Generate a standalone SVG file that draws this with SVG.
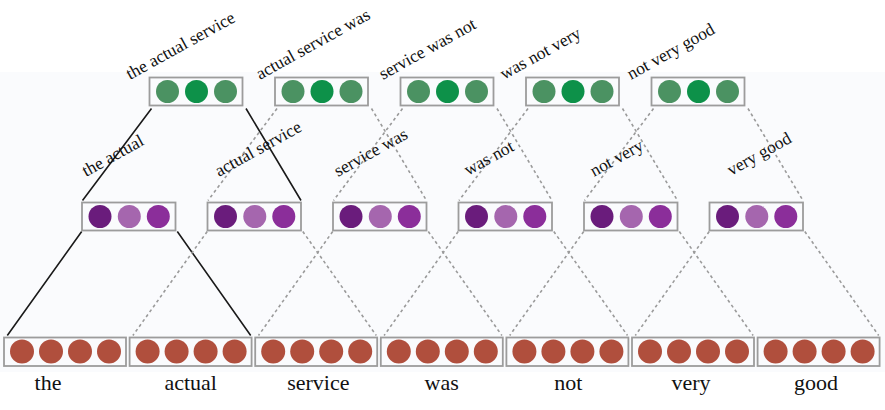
<svg xmlns="http://www.w3.org/2000/svg" width="885" height="410" viewBox="0 0 885 410">
<defs>
<filter id="soft" x="-20%" y="-20%" width="140%" height="140%"><feGaussianBlur stdDeviation="0.7"/></filter>
</defs>
<style>
.box{fill:none;stroke:#9c9c9c;stroke-width:1.8}
.g1{fill:#4c9262}.g2{fill:#0b9149}
.p1{fill:#6b1e7c}.p2{fill:#a566ae}.p3{fill:#8b2d9a}
.r{fill:#b04f3e}
.solid{stroke:#1a1a1a;stroke-width:1.6;fill:none}
.dot{stroke:#9a9a9a;stroke-width:1.6;stroke-dasharray:3 3;fill:none}
.lab{font-size:17.5px;fill:#111}
.word{font-size:22px;fill:#111;text-anchor:middle}
</style>
<rect width="885" height="410" fill="#ffffff"/>
<rect x="0" y="72" width="885" height="300" fill="#fafbfd"/>
<g id="connectors">
<path class="solid" d="M151.5 108.5 L82.5 200.5 M246 108.5 L301 200.5"/>
<path class="dot" d="M277 108.5 L208 200.5 M371.5 108.5 L426.5 200.5"/>
<path class="dot" d="M402.5 108.5 L333.5 200.5 M497 108.5 L552 200.5"/>
<path class="dot" d="M528 108.5 L459 200.5 M622.5 108.5 L677.5 200.5"/>
<path class="dot" d="M653.5 108.5 L584.5 200.5 M748 108.5 L803 200.5"/>
<path class="solid" d="M81.7 231.5 L7.3 335.5 M177.3 231.5 L250.7 335.5"/>
<path class="dot" d="M207.2 231.5 L132.9 335.5 M302.8 231.5 L376.3 335.5"/>
<path class="dot" d="M332.7 231.5 L258.5 335.5 M428.3 231.5 L501.9 335.5"/>
<path class="dot" d="M458.2 231.5 L384.1 335.5 M553.8 231.5 L627.5 335.5"/>
<path class="dot" d="M583.7 231.5 L509.7 335.5 M679.3 231.5 L753.1 335.5"/>
<path class="dot" d="M709.2 231.5 L635.3 335.5 M804.8 231.5 L878.7 335.5"/>
</g>
<g font-family="'Liberation Serif', 'DejaVu Serif', serif">
<g id="top-0"><rect class="box" x="149.5" y="77.5" width="93" height="28"/><g filter="url(#soft)"><circle class="g1" cx="167.5" cy="91.5" r="11.5"/><circle class="g2" cx="196.5" cy="91.5" r="11.5"/><circle class="g1" cx="225.5" cy="91.5" r="11.5"/></g><text class="lab" transform="translate(130 80) rotate(-29)">the actual service</text></g>
<g id="top-1"><rect class="box" x="275" y="77.5" width="93" height="28"/><g filter="url(#soft)"><circle class="g1" cx="293" cy="91.5" r="11.5"/><circle class="g2" cx="322" cy="91.5" r="11.5"/><circle class="g1" cx="351" cy="91.5" r="11.5"/></g><text class="lab" transform="translate(260 80) rotate(-29)">actual service was</text></g>
<g id="top-2"><rect class="box" x="400.5" y="77.5" width="93" height="28"/><g filter="url(#soft)"><circle class="g1" cx="418.5" cy="91.5" r="11.5"/><circle class="g2" cx="447.5" cy="91.5" r="11.5"/><circle class="g1" cx="476.5" cy="91.5" r="11.5"/></g><text class="lab" transform="translate(383 80) rotate(-29)">service was not</text></g>
<g id="top-3"><rect class="box" x="526" y="77.5" width="93" height="28"/><g filter="url(#soft)"><circle class="g1" cx="544" cy="91.5" r="11.5"/><circle class="g2" cx="573" cy="91.5" r="11.5"/><circle class="g1" cx="602" cy="91.5" r="11.5"/></g><text class="lab" transform="translate(504 80) rotate(-29)">was not very</text></g>
<g id="top-4"><rect class="box" x="651.5" y="77.5" width="93" height="28"/><g filter="url(#soft)"><circle class="g1" cx="669.5" cy="91.5" r="11.5"/><circle class="g2" cx="698.5" cy="91.5" r="11.5"/><circle class="g1" cx="727.5" cy="91.5" r="11.5"/></g><text class="lab" transform="translate(631 80) rotate(-29)">not very good</text></g>
<g id="mid-0"><rect class="box" x="82" y="202.5" width="93.5" height="28"/><g filter="url(#soft)"><circle class="p1" cx="100" cy="216.5" r="11.5"/><circle class="p2" cx="129.3" cy="216.5" r="11.5"/><circle class="p3" cx="158.3" cy="216.5" r="11.5"/></g><text class="lab" transform="translate(86 177) rotate(-29)">the actual</text></g>
<g id="mid-1"><rect class="box" x="207.5" y="202.5" width="93.5" height="28"/><g filter="url(#soft)"><circle class="p1" cx="225.5" cy="216.5" r="11.5"/><circle class="p2" cx="254.8" cy="216.5" r="11.5"/><circle class="p3" cx="283.8" cy="216.5" r="11.5"/></g><text class="lab" transform="translate(219 177) rotate(-29)">actual service</text></g>
<g id="mid-2"><rect class="box" x="333" y="202.5" width="93.5" height="28"/><g filter="url(#soft)"><circle class="p1" cx="351" cy="216.5" r="11.5"/><circle class="p2" cx="380.3" cy="216.5" r="11.5"/><circle class="p3" cx="409.3" cy="216.5" r="11.5"/></g><text class="lab" transform="translate(338 177) rotate(-29)">service was</text></g>
<g id="mid-3"><rect class="box" x="458.5" y="202.5" width="93.5" height="28"/><g filter="url(#soft)"><circle class="p1" cx="476.5" cy="216.5" r="11.5"/><circle class="p2" cx="505.8" cy="216.5" r="11.5"/><circle class="p3" cx="534.8" cy="216.5" r="11.5"/></g><text class="lab" transform="translate(468 176) rotate(-29)">was not</text></g>
<g id="mid-4"><rect class="box" x="584" y="202.5" width="93.5" height="28"/><g filter="url(#soft)"><circle class="p1" cx="602" cy="216.5" r="11.5"/><circle class="p2" cx="631.3" cy="216.5" r="11.5"/><circle class="p3" cx="660.3" cy="216.5" r="11.5"/></g><text class="lab" transform="translate(594 177) rotate(-29)">not very</text></g>
<g id="mid-5"><rect class="box" x="709.5" y="202.5" width="93.5" height="28"/><g filter="url(#soft)"><circle class="p1" cx="727.5" cy="216.5" r="11.5"/><circle class="p2" cx="756.8" cy="216.5" r="11.5"/><circle class="p3" cx="785.8" cy="216.5" r="11.5"/></g><text class="lab" transform="translate(731 176) rotate(-29)">very good</text></g>
<g id="word-0"><rect class="box" x="4" y="337.5" width="122" height="28.5"/><g filter="url(#soft)"><circle class="r" cx="22" cy="351.5" r="12"/><circle class="r" cx="51" cy="351.5" r="12"/><circle class="r" cx="80" cy="351.5" r="12"/><circle class="r" cx="109" cy="351.5" r="12"/></g><text class="word" x="48" y="390">the</text></g>
<g id="word-1"><rect class="box" x="129.6" y="337.5" width="122" height="28.5"/><g filter="url(#soft)"><circle class="r" cx="147.6" cy="351.5" r="12"/><circle class="r" cx="176.6" cy="351.5" r="12"/><circle class="r" cx="205.6" cy="351.5" r="12"/><circle class="r" cx="234.6" cy="351.5" r="12"/></g><text class="word" x="190.7" y="390">actual</text></g>
<g id="word-2"><rect class="box" x="255.2" y="337.5" width="122" height="28.5"/><g filter="url(#soft)"><circle class="r" cx="273.2" cy="351.5" r="12"/><circle class="r" cx="302.2" cy="351.5" r="12"/><circle class="r" cx="331.2" cy="351.5" r="12"/><circle class="r" cx="360.2" cy="351.5" r="12"/></g><text class="word" x="318.3" y="390">service</text></g>
<g id="word-3"><rect class="box" x="380.8" y="337.5" width="122" height="28.5"/><g filter="url(#soft)"><circle class="r" cx="398.8" cy="351.5" r="12"/><circle class="r" cx="427.8" cy="351.5" r="12"/><circle class="r" cx="456.8" cy="351.5" r="12"/><circle class="r" cx="485.8" cy="351.5" r="12"/></g><text class="word" x="441.7" y="390">was</text></g>
<g id="word-4"><rect class="box" x="506.4" y="337.5" width="122" height="28.5"/><g filter="url(#soft)"><circle class="r" cx="524.4" cy="351.5" r="12"/><circle class="r" cx="553.4" cy="351.5" r="12"/><circle class="r" cx="582.4" cy="351.5" r="12"/><circle class="r" cx="611.4" cy="351.5" r="12"/></g><text class="word" x="568.3" y="390">not</text></g>
<g id="word-5"><rect class="box" x="632" y="337.5" width="122" height="28.5"/><g filter="url(#soft)"><circle class="r" cx="650" cy="351.5" r="12"/><circle class="r" cx="679" cy="351.5" r="12"/><circle class="r" cx="708" cy="351.5" r="12"/><circle class="r" cx="737" cy="351.5" r="12"/></g><text class="word" x="691" y="390">very</text></g>
<g id="word-6"><rect class="box" x="757.6" y="337.5" width="122" height="28.5"/><g filter="url(#soft)"><circle class="r" cx="775.6" cy="351.5" r="12"/><circle class="r" cx="804.6" cy="351.5" r="12"/><circle class="r" cx="833.6" cy="351.5" r="12"/><circle class="r" cx="862.6" cy="351.5" r="12"/></g><text class="word" x="816" y="390">good</text></g>
</g>
</svg>
